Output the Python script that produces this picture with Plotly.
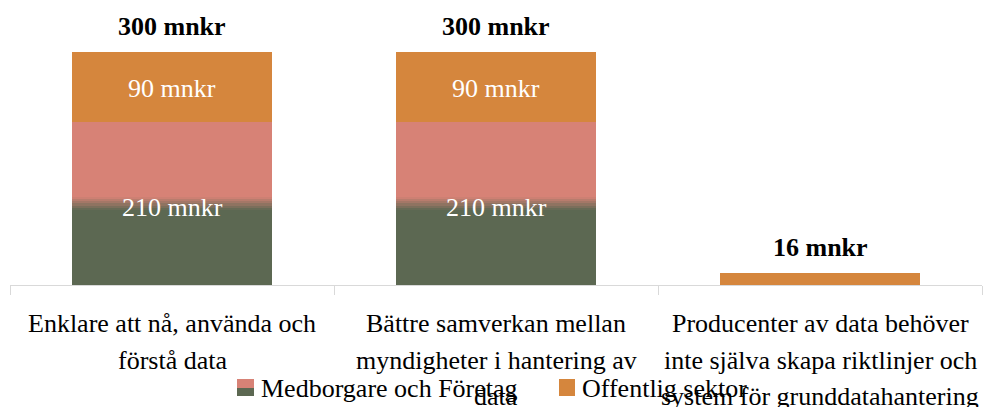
import plotly.graph_objects as go

# ---- data ----
categories = [
    "Enklare att nå, använda och<br>förstå data",
    "Bättre samverkan mellan<br>myndigheter i hantering av<br>data",
    "Producenter av data behöver<br>inte själva skapa riktlinjer och<br>system för grunddatahantering",
]
medborgare = [210, 210, 0]
offentlig = [90, 90, 16]
series_names = ["Medborgare och Företag", "Offentlig sektor"]
unit = "mnkr"

# ---- style ----
FONT = "Liberation Serif"
FS = 26
GREEN = (92, 104, 82)
PINK = (215, 130, 118)
ORANGE = "#D5863D"
AXIS = "#D9D9D9"
W, H = 983, 407
ML, MR, MT, MB = 10, 1, 13, 122
PW, PH = W - ML - MR, H - MT - MB


def rgb(c):
    return "rgb(%d,%d,%d)" % c


def mix(a, b, t):
    return tuple(round(a[i] + (b[i] - a[i]) * t) for i in range(3))


def px(xp):
    return (xp - ML) / PW


def py(yp):
    return (H - MB - yp) / PH


x = list(range(len(categories)))
fig = go.Figure()

# Medborgare segment drawn as a vertical green->pink gradient (bands)
nblend = 6
blend_frac = 0.08
solid = (1 - blend_frac) / 2
bands = [(solid, GREEN)]
for k in range(nblend):
    bands.append((blend_frac / nblend, mix(GREEN, PINK, (k + 0.5) / nblend)))
bands.append((solid, PINK))
for frac, col in bands:
    fig.add_trace(go.Bar(
        x=x, y=[v * frac for v in medborgare], width=0.62,
        marker=dict(color=rgb(col), line=dict(width=0)),
        showlegend=False, hoverinfo="skip",
    ))
fig.add_trace(go.Bar(
    x=x, y=offentlig, width=0.62,
    marker=dict(color=ORANGE, line=dict(width=0)),
    showlegend=False, name=series_names[1],
))

ann = []
for i in x:
    m, o = medborgare[i], offentlig[i]
    if m >= 50:
        ann.append(dict(x=i, y=m / 2, text=f"{m} {unit}", showarrow=False,
                        font=dict(family=FONT, size=FS, color="white"), yshift=-4))
    if o >= 50:
        ann.append(dict(x=i, y=m + o / 2, text=f"{o} {unit}", showarrow=False,
                        font=dict(family=FONT, size=FS, color="white"), yshift=-2))
    ann.append(dict(x=i, y=m + o, text=f"<b>{m + o} {unit}</b>", showarrow=False,
                    yanchor="bottom", yshift=9,
                    font=dict(family=FONT, size=FS, color="black")))
    # category labels, one annotation per line
    for j, line in enumerate(categories[i].split("<br>")):
        ann.append(dict(x=i, xref="x", y=py(323 + 37 * j), yref="paper",
                        text=line, showarrow=False, yanchor="middle",
                        font=dict(family=FONT, size=FS, color="black")))

# custom legend
shapes = []
leg = [(237, 254, 259, series_names[0], True), (559, 575, 580, series_names[1], False)]
for x0, x1, tx, name, split in leg:
    if split:
        shapes.append(dict(type="rect", xref="paper", yref="paper", x0=px(x0), x1=px(x1),
                           y0=py(388), y1=py(379), fillcolor=rgb(PINK), line=dict(width=0)))
        shapes.append(dict(type="rect", xref="paper", yref="paper", x0=px(x0), x1=px(x1),
                           y0=py(396), y1=py(388), fillcolor=rgb(GREEN), line=dict(width=0)))
    else:
        shapes.append(dict(type="rect", xref="paper", yref="paper", x0=px(x0), x1=px(x1),
                           y0=py(396), y1=py(379), fillcolor=ORANGE, line=dict(width=0)))
    ann.append(dict(x=px(tx), y=py(388), xref="paper", yref="paper", text=name,
                    showarrow=False, xanchor="left", yanchor="middle",
                    font=dict(family=FONT, size=FS, color="black")))

fig.update_layout(
    width=W, height=H, margin=dict(l=ML, r=MR, t=MT, b=MB),
    barmode="stack", plot_bgcolor="white", paper_bgcolor="white",
    showlegend=False, annotations=ann, shapes=shapes,
    xaxis=dict(range=[-0.5, len(categories) - 0.5], tickvals=[-0.5 + k for k in range(len(categories) + 1)],
               showticklabels=False, ticks="outside", ticklen=9, tickcolor=AXIS, tickwidth=1,
               showline=True, linecolor=AXIS, linewidth=1, showgrid=False, zeroline=False,
               fixedrange=True),
    yaxis=dict(range=[0, 350], visible=False, showgrid=False, zeroline=False, fixedrange=True),
)
fig.write_html("out.html", config={"displayModeBar": False},
               post_script="document.body.style.margin='0';document.body.style.overflow='hidden';")
